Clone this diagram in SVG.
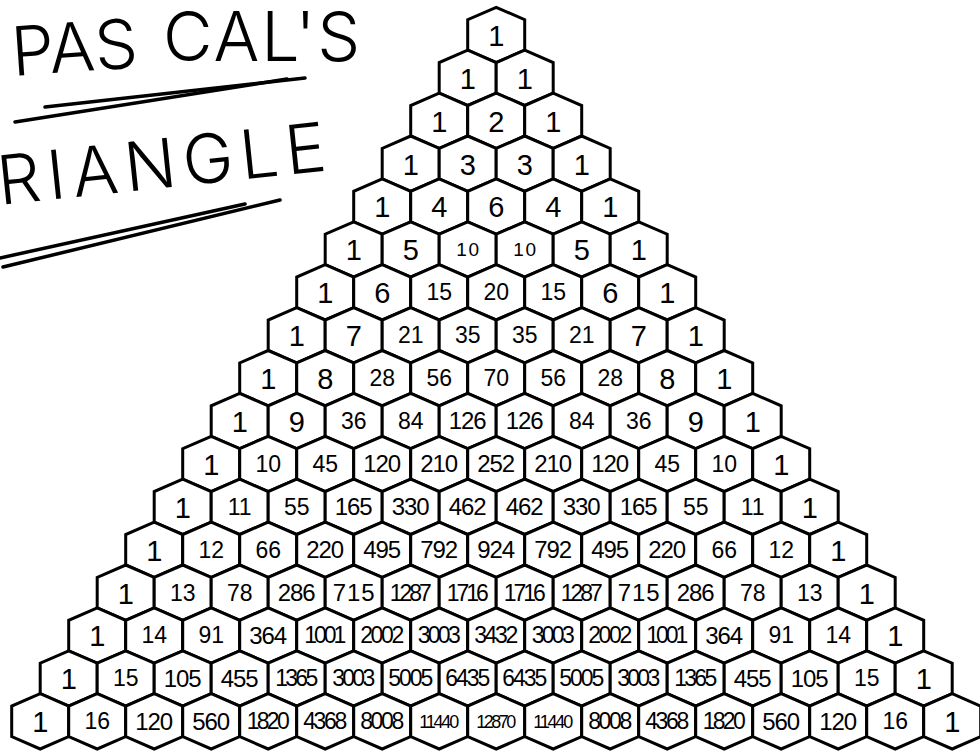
<svg xmlns="http://www.w3.org/2000/svg" xmlns:xlink="http://www.w3.org/1999/xlink" width="980" height="752" viewBox="0 0 980 752">
<style>
.n text{font-family:"Liberation Sans",Arial,sans-serif;text-anchor:middle;fill:#000}
.d1{font-size:29px}.d2{font-size:23px}.d3{font-size:24px}.d4{font-size:23px}.d5{font-size:18px}.ds{font-size:19px}
.hw{font-family:Inter,"Open Sans","DejaVu Sans",sans-serif;font-weight:300;font-size:68px;fill:#000}
.ul{fill:none;stroke:#000;stroke-width:3.5;stroke-linecap:round}
</style>
<defs>
<path id="h" d="M0,0 L28.5,12.4 L28.5,42.9 L0,55.3 L-28.5,42.9 L-28.5,12.4 Z" fill="#fff" stroke="#000" stroke-width="3" stroke-linejoin="miter"/>
</defs>
<rect width="980" height="752" fill="#fff"/>
<g id="title">
<text class="hw" x="13" y="76" transform="rotate(-4 13 76)">PAS</text>
<text class="hw" x="163" y="61" letter-spacing="2">CAL'S</text>
<text class="hw" x="0" y="205" letter-spacing="7" transform="rotate(-6 0 205)">RIANGLE</text>
<path class="ul" d="M15,122 L287,79"/>
<path class="ul" d="M45,107 L305,78"/>
<path class="ul" d="M0,258 L245,204"/>
<path class="ul" d="M3,267 L280,200"/>
</g>
<g id="nodes" class="n">
<g id="n0_0" transform="translate(496.2,7.3)"><use href="#h"/><text class="d1" y="38.6">1</text></g>
<g id="n1_0" transform="translate(467.7,50.2)"><use href="#h"/><text class="d1" y="38.6">1</text></g>
<g id="n1_1" transform="translate(524.7,50.2)"><use href="#h"/><text class="d1" y="38.6">1</text></g>
<g id="n2_0" transform="translate(439.2,93.1)"><use href="#h"/><text class="d1" y="38.6">1</text></g>
<g id="n2_1" transform="translate(496.2,93.1)"><use href="#h"/><text class="d1" y="38.6">2</text></g>
<g id="n2_2" transform="translate(553.2,93.1)"><use href="#h"/><text class="d1" y="38.6">1</text></g>
<g id="n3_0" transform="translate(410.7,136)"><use href="#h"/><text class="d1" y="38.6">1</text></g>
<g id="n3_1" transform="translate(467.7,136)"><use href="#h"/><text class="d1" y="38.6">3</text></g>
<g id="n3_2" transform="translate(524.7,136)"><use href="#h"/><text class="d1" y="38.6">3</text></g>
<g id="n3_3" transform="translate(581.7,136)"><use href="#h"/><text class="d1" y="38.6">1</text></g>
<g id="n4_0" transform="translate(382.2,178.9)"><use href="#h"/><text class="d1" y="38.6">1</text></g>
<g id="n4_1" transform="translate(439.2,178.9)"><use href="#h"/><text class="d1" y="38.6">4</text></g>
<g id="n4_2" transform="translate(496.2,178.9)"><use href="#h"/><text class="d1" y="38.6">6</text></g>
<g id="n4_3" transform="translate(553.2,178.9)"><use href="#h"/><text class="d1" y="38.6">4</text></g>
<g id="n4_4" transform="translate(610.2,178.9)"><use href="#h"/><text class="d1" y="38.6">1</text></g>
<g id="n5_0" transform="translate(353.7,221.8)"><use href="#h"/><text class="d1" y="38.6">1</text></g>
<g id="n5_1" transform="translate(410.7,221.8)"><use href="#h"/><text class="d1" y="38.6">5</text></g>
<g id="n5_2" transform="translate(467.7,221.8)"><use href="#h"/><text class="ds" y="34.5" textLength="23">10</text></g>
<g id="n5_3" transform="translate(524.7,221.8)"><use href="#h"/><text class="ds" y="34.5" textLength="23">10</text></g>
<g id="n5_4" transform="translate(581.7,221.8)"><use href="#h"/><text class="d1" y="38.6">5</text></g>
<g id="n5_5" transform="translate(638.7,221.8)"><use href="#h"/><text class="d1" y="38.6">1</text></g>
<g id="n6_0" transform="translate(325.2,264.7)"><use href="#h"/><text class="d1" y="38.6">1</text></g>
<g id="n6_1" transform="translate(382.2,264.7)"><use href="#h"/><text class="d1" y="38.6">6</text></g>
<g id="n6_2" transform="translate(439.2,264.7)"><use href="#h"/><text class="d2" y="35.5">15</text></g>
<g id="n6_3" transform="translate(496.2,264.7)"><use href="#h"/><text class="d2" y="35.5">20</text></g>
<g id="n6_4" transform="translate(553.2,264.7)"><use href="#h"/><text class="d2" y="35.5">15</text></g>
<g id="n6_5" transform="translate(610.2,264.7)"><use href="#h"/><text class="d1" y="38.6">6</text></g>
<g id="n6_6" transform="translate(667.2,264.7)"><use href="#h"/><text class="d1" y="38.6">1</text></g>
<g id="n7_0" transform="translate(296.7,307.6)"><use href="#h"/><text class="d1" y="38.6">1</text></g>
<g id="n7_1" transform="translate(353.7,307.6)"><use href="#h"/><text class="d1" y="38.6">7</text></g>
<g id="n7_2" transform="translate(410.7,307.6)"><use href="#h"/><text class="d2" y="35.5">21</text></g>
<g id="n7_3" transform="translate(467.7,307.6)"><use href="#h"/><text class="d2" y="35.5">35</text></g>
<g id="n7_4" transform="translate(524.7,307.6)"><use href="#h"/><text class="d2" y="35.5">35</text></g>
<g id="n7_5" transform="translate(581.7,307.6)"><use href="#h"/><text class="d2" y="35.5">21</text></g>
<g id="n7_6" transform="translate(638.7,307.6)"><use href="#h"/><text class="d1" y="38.6">7</text></g>
<g id="n7_7" transform="translate(695.7,307.6)"><use href="#h"/><text class="d1" y="38.6">1</text></g>
<g id="n8_0" transform="translate(268.2,350.5)"><use href="#h"/><text class="d1" y="38.6">1</text></g>
<g id="n8_1" transform="translate(325.2,350.5)"><use href="#h"/><text class="d1" y="38.6">8</text></g>
<g id="n8_2" transform="translate(382.2,350.5)"><use href="#h"/><text class="d2" y="35.5">28</text></g>
<g id="n8_3" transform="translate(439.2,350.5)"><use href="#h"/><text class="d2" y="35.5">56</text></g>
<g id="n8_4" transform="translate(496.2,350.5)"><use href="#h"/><text class="d2" y="35.5">70</text></g>
<g id="n8_5" transform="translate(553.2,350.5)"><use href="#h"/><text class="d2" y="35.5">56</text></g>
<g id="n8_6" transform="translate(610.2,350.5)"><use href="#h"/><text class="d2" y="35.5">28</text></g>
<g id="n8_7" transform="translate(667.2,350.5)"><use href="#h"/><text class="d1" y="38.6">8</text></g>
<g id="n8_8" transform="translate(724.2,350.5)"><use href="#h"/><text class="d1" y="38.6">1</text></g>
<g id="n9_0" transform="translate(239.7,393.4)"><use href="#h"/><text class="d1" y="38.6">1</text></g>
<g id="n9_1" transform="translate(296.7,393.4)"><use href="#h"/><text class="d1" y="38.6">9</text></g>
<g id="n9_2" transform="translate(353.7,393.4)"><use href="#h"/><text class="d2" y="35.5">36</text></g>
<g id="n9_3" transform="translate(410.7,393.4)"><use href="#h"/><text class="d2" y="35.5">84</text></g>
<g id="n9_4" transform="translate(467.7,393.4)"><use href="#h"/><text class="d3" y="36" textLength="38">126</text></g>
<g id="n9_5" transform="translate(524.7,393.4)"><use href="#h"/><text class="d3" y="36" textLength="38">126</text></g>
<g id="n9_6" transform="translate(581.7,393.4)"><use href="#h"/><text class="d2" y="35.5">84</text></g>
<g id="n9_7" transform="translate(638.7,393.4)"><use href="#h"/><text class="d2" y="35.5">36</text></g>
<g id="n9_8" transform="translate(695.7,393.4)"><use href="#h"/><text class="d1" y="38.6">9</text></g>
<g id="n9_9" transform="translate(752.7,393.4)"><use href="#h"/><text class="d1" y="38.6">1</text></g>
<g id="n10_0" transform="translate(211.2,436.3)"><use href="#h"/><text class="d1" y="38.6">1</text></g>
<g id="n10_1" transform="translate(268.2,436.3)"><use href="#h"/><text class="d2" y="35.5">10</text></g>
<g id="n10_2" transform="translate(325.2,436.3)"><use href="#h"/><text class="d2" y="35.5">45</text></g>
<g id="n10_3" transform="translate(382.2,436.3)"><use href="#h"/><text class="d3" y="36" textLength="38">120</text></g>
<g id="n10_4" transform="translate(439.2,436.3)"><use href="#h"/><text class="d3" y="36" textLength="38">210</text></g>
<g id="n10_5" transform="translate(496.2,436.3)"><use href="#h"/><text class="d3" y="36" textLength="38">252</text></g>
<g id="n10_6" transform="translate(553.2,436.3)"><use href="#h"/><text class="d3" y="36" textLength="38">210</text></g>
<g id="n10_7" transform="translate(610.2,436.3)"><use href="#h"/><text class="d3" y="36" textLength="38">120</text></g>
<g id="n10_8" transform="translate(667.2,436.3)"><use href="#h"/><text class="d2" y="35.5">45</text></g>
<g id="n10_9" transform="translate(724.2,436.3)"><use href="#h"/><text class="d2" y="35.5">10</text></g>
<g id="n10_10" transform="translate(781.2,436.3)"><use href="#h"/><text class="d1" y="38.6">1</text></g>
<g id="n11_0" transform="translate(182.7,479.2)"><use href="#h"/><text class="d1" y="38.6">1</text></g>
<g id="n11_1" transform="translate(239.7,479.2)"><use href="#h"/><text class="d2" y="35.5">11</text></g>
<g id="n11_2" transform="translate(296.7,479.2)"><use href="#h"/><text class="d2" y="35.5">55</text></g>
<g id="n11_3" transform="translate(353.7,479.2)"><use href="#h"/><text class="d3" y="36" textLength="38">165</text></g>
<g id="n11_4" transform="translate(410.7,479.2)"><use href="#h"/><text class="d3" y="36" textLength="38">330</text></g>
<g id="n11_5" transform="translate(467.7,479.2)"><use href="#h"/><text class="d3" y="36" textLength="38">462</text></g>
<g id="n11_6" transform="translate(524.7,479.2)"><use href="#h"/><text class="d3" y="36" textLength="38">462</text></g>
<g id="n11_7" transform="translate(581.7,479.2)"><use href="#h"/><text class="d3" y="36" textLength="38">330</text></g>
<g id="n11_8" transform="translate(638.7,479.2)"><use href="#h"/><text class="d3" y="36" textLength="38">165</text></g>
<g id="n11_9" transform="translate(695.7,479.2)"><use href="#h"/><text class="d2" y="35.5">55</text></g>
<g id="n11_10" transform="translate(752.7,479.2)"><use href="#h"/><text class="d2" y="35.5">11</text></g>
<g id="n11_11" transform="translate(809.7,479.2)"><use href="#h"/><text class="d1" y="38.6">1</text></g>
<g id="n12_0" transform="translate(154.2,522.1)"><use href="#h"/><text class="d1" y="38.6">1</text></g>
<g id="n12_1" transform="translate(211.2,522.1)"><use href="#h"/><text class="d2" y="35.5">12</text></g>
<g id="n12_2" transform="translate(268.2,522.1)"><use href="#h"/><text class="d2" y="35.5">66</text></g>
<g id="n12_3" transform="translate(325.2,522.1)"><use href="#h"/><text class="d3" y="36" textLength="38">220</text></g>
<g id="n12_4" transform="translate(382.2,522.1)"><use href="#h"/><text class="d3" y="36" textLength="38">495</text></g>
<g id="n12_5" transform="translate(439.2,522.1)"><use href="#h"/><text class="d3" y="36" textLength="38">792</text></g>
<g id="n12_6" transform="translate(496.2,522.1)"><use href="#h"/><text class="d3" y="36" textLength="38">924</text></g>
<g id="n12_7" transform="translate(553.2,522.1)"><use href="#h"/><text class="d3" y="36" textLength="38">792</text></g>
<g id="n12_8" transform="translate(610.2,522.1)"><use href="#h"/><text class="d3" y="36" textLength="38">495</text></g>
<g id="n12_9" transform="translate(667.2,522.1)"><use href="#h"/><text class="d3" y="36" textLength="38">220</text></g>
<g id="n12_10" transform="translate(724.2,522.1)"><use href="#h"/><text class="d2" y="35.5">66</text></g>
<g id="n12_11" transform="translate(781.2,522.1)"><use href="#h"/><text class="d2" y="35.5">12</text></g>
<g id="n12_12" transform="translate(838.2,522.1)"><use href="#h"/><text class="d1" y="38.6">1</text></g>
<g id="n13_0" transform="translate(125.7,565)"><use href="#h"/><text class="d1" y="38.6">1</text></g>
<g id="n13_1" transform="translate(182.7,565)"><use href="#h"/><text class="d2" y="35.5">13</text></g>
<g id="n13_2" transform="translate(239.7,565)"><use href="#h"/><text class="d2" y="35.5">78</text></g>
<g id="n13_3" transform="translate(296.7,565)"><use href="#h"/><text class="d3" y="36" textLength="38">286</text></g>
<g id="n13_4" transform="translate(353.7,565)"><use href="#h"/><text class="d3" y="36" textLength="42">715</text></g>
<g id="n13_5" transform="translate(410.7,565)"><use href="#h"/><text class="d4" y="35.5" textLength="42">1287</text></g>
<g id="n13_6" transform="translate(467.7,565)"><use href="#h"/><text class="d4" y="35.5" textLength="42">1716</text></g>
<g id="n13_7" transform="translate(524.7,565)"><use href="#h"/><text class="d4" y="35.5" textLength="42">1716</text></g>
<g id="n13_8" transform="translate(581.7,565)"><use href="#h"/><text class="d4" y="35.5" textLength="42">1287</text></g>
<g id="n13_9" transform="translate(638.7,565)"><use href="#h"/><text class="d3" y="36" textLength="42">715</text></g>
<g id="n13_10" transform="translate(695.7,565)"><use href="#h"/><text class="d3" y="36" textLength="38">286</text></g>
<g id="n13_11" transform="translate(752.7,565)"><use href="#h"/><text class="d2" y="35.5">78</text></g>
<g id="n13_12" transform="translate(809.7,565)"><use href="#h"/><text class="d2" y="35.5">13</text></g>
<g id="n13_13" transform="translate(866.7,565)"><use href="#h"/><text class="d1" y="38.6">1</text></g>
<g id="n14_0" transform="translate(97.2,607.9)"><use href="#h"/><text class="d1" y="38.6">1</text></g>
<g id="n14_1" transform="translate(154.2,607.9)"><use href="#h"/><text class="d2" y="35.5">14</text></g>
<g id="n14_2" transform="translate(211.2,607.9)"><use href="#h"/><text class="d2" y="35.5">91</text></g>
<g id="n14_3" transform="translate(268.2,607.9)"><use href="#h"/><text class="d3" y="36" textLength="38">364</text></g>
<g id="n14_4" transform="translate(325.2,607.9)"><use href="#h"/><text class="d4" y="35.5" textLength="42">1001</text></g>
<g id="n14_5" transform="translate(382.2,607.9)"><use href="#h"/><text class="d4" y="35.5" textLength="44">2002</text></g>
<g id="n14_6" transform="translate(439.2,607.9)"><use href="#h"/><text class="d4" y="35.5" textLength="43">3003</text></g>
<g id="n14_7" transform="translate(496.2,607.9)"><use href="#h"/><text class="d4" y="35.5" textLength="44">3432</text></g>
<g id="n14_8" transform="translate(553.2,607.9)"><use href="#h"/><text class="d4" y="35.5" textLength="43">3003</text></g>
<g id="n14_9" transform="translate(610.2,607.9)"><use href="#h"/><text class="d4" y="35.5" textLength="44">2002</text></g>
<g id="n14_10" transform="translate(667.2,607.9)"><use href="#h"/><text class="d4" y="35.5" textLength="42">1001</text></g>
<g id="n14_11" transform="translate(724.2,607.9)"><use href="#h"/><text class="d3" y="36" textLength="38">364</text></g>
<g id="n14_12" transform="translate(781.2,607.9)"><use href="#h"/><text class="d2" y="35.5">91</text></g>
<g id="n14_13" transform="translate(838.2,607.9)"><use href="#h"/><text class="d2" y="35.5">14</text></g>
<g id="n14_14" transform="translate(895.2,607.9)"><use href="#h"/><text class="d1" y="38.6">1</text></g>
<g id="n15_0" transform="translate(68.7,650.8)"><use href="#h"/><text class="d1" y="38.6">1</text></g>
<g id="n15_1" transform="translate(125.7,650.8)"><use href="#h"/><text class="d2" y="35.5">15</text></g>
<g id="n15_2" transform="translate(182.7,650.8)"><use href="#h"/><text class="d3" y="36" textLength="38">105</text></g>
<g id="n15_3" transform="translate(239.7,650.8)"><use href="#h"/><text class="d3" y="36" textLength="38">455</text></g>
<g id="n15_4" transform="translate(296.7,650.8)"><use href="#h"/><text class="d4" y="35.5" textLength="43">1365</text></g>
<g id="n15_5" transform="translate(353.7,650.8)"><use href="#h"/><text class="d4" y="35.5" textLength="43">3003</text></g>
<g id="n15_6" transform="translate(410.7,650.8)"><use href="#h"/><text class="d4" y="35.5" textLength="45">5005</text></g>
<g id="n15_7" transform="translate(467.7,650.8)"><use href="#h"/><text class="d4" y="35.5" textLength="45">6435</text></g>
<g id="n15_8" transform="translate(524.7,650.8)"><use href="#h"/><text class="d4" y="35.5" textLength="45">6435</text></g>
<g id="n15_9" transform="translate(581.7,650.8)"><use href="#h"/><text class="d4" y="35.5" textLength="45">5005</text></g>
<g id="n15_10" transform="translate(638.7,650.8)"><use href="#h"/><text class="d4" y="35.5" textLength="43">3003</text></g>
<g id="n15_11" transform="translate(695.7,650.8)"><use href="#h"/><text class="d4" y="35.5" textLength="43">1365</text></g>
<g id="n15_12" transform="translate(752.7,650.8)"><use href="#h"/><text class="d3" y="36" textLength="38">455</text></g>
<g id="n15_13" transform="translate(809.7,650.8)"><use href="#h"/><text class="d3" y="36" textLength="38">105</text></g>
<g id="n15_14" transform="translate(866.7,650.8)"><use href="#h"/><text class="d2" y="35.5">15</text></g>
<g id="n15_15" transform="translate(923.7,650.8)"><use href="#h"/><text class="d1" y="38.6">1</text></g>
<g id="n16_0" transform="translate(40.2,693.7)"><use href="#h"/><text class="d1" y="38.6">1</text></g>
<g id="n16_1" transform="translate(97.2,693.7)"><use href="#h"/><text class="d2" y="35.5">16</text></g>
<g id="n16_2" transform="translate(154.2,693.7)"><use href="#h"/><text class="d3" y="36" textLength="38">120</text></g>
<g id="n16_3" transform="translate(211.2,693.7)"><use href="#h"/><text class="d3" y="36" textLength="38">560</text></g>
<g id="n16_4" transform="translate(268.2,693.7)"><use href="#h"/><text class="d4" y="35.5" textLength="43">1820</text></g>
<g id="n16_5" transform="translate(325.2,693.7)"><use href="#h"/><text class="d4" y="35.5" textLength="44">4368</text></g>
<g id="n16_6" transform="translate(382.2,693.7)"><use href="#h"/><text class="d4" y="35.5" textLength="44">8008</text></g>
<g id="n16_7" transform="translate(439.2,693.7)"><use href="#h"/><text class="d5" y="34" textLength="40">11440</text></g>
<g id="n16_8" transform="translate(496.2,693.7)"><use href="#h"/><text class="d5" y="34" textLength="40">12870</text></g>
<g id="n16_9" transform="translate(553.2,693.7)"><use href="#h"/><text class="d5" y="34" textLength="40">11440</text></g>
<g id="n16_10" transform="translate(610.2,693.7)"><use href="#h"/><text class="d4" y="35.5" textLength="44">8008</text></g>
<g id="n16_11" transform="translate(667.2,693.7)"><use href="#h"/><text class="d4" y="35.5" textLength="44">4368</text></g>
<g id="n16_12" transform="translate(724.2,693.7)"><use href="#h"/><text class="d4" y="35.5" textLength="43">1820</text></g>
<g id="n16_13" transform="translate(781.2,693.7)"><use href="#h"/><text class="d3" y="36" textLength="38">560</text></g>
<g id="n16_14" transform="translate(838.2,693.7)"><use href="#h"/><text class="d3" y="36" textLength="38">120</text></g>
<g id="n16_15" transform="translate(895.2,693.7)"><use href="#h"/><text class="d2" y="35.5">16</text></g>
<g id="n16_16" transform="translate(952.2,693.7)"><use href="#h"/><text class="d1" y="38.6">1</text></g>
</g>
</svg>
